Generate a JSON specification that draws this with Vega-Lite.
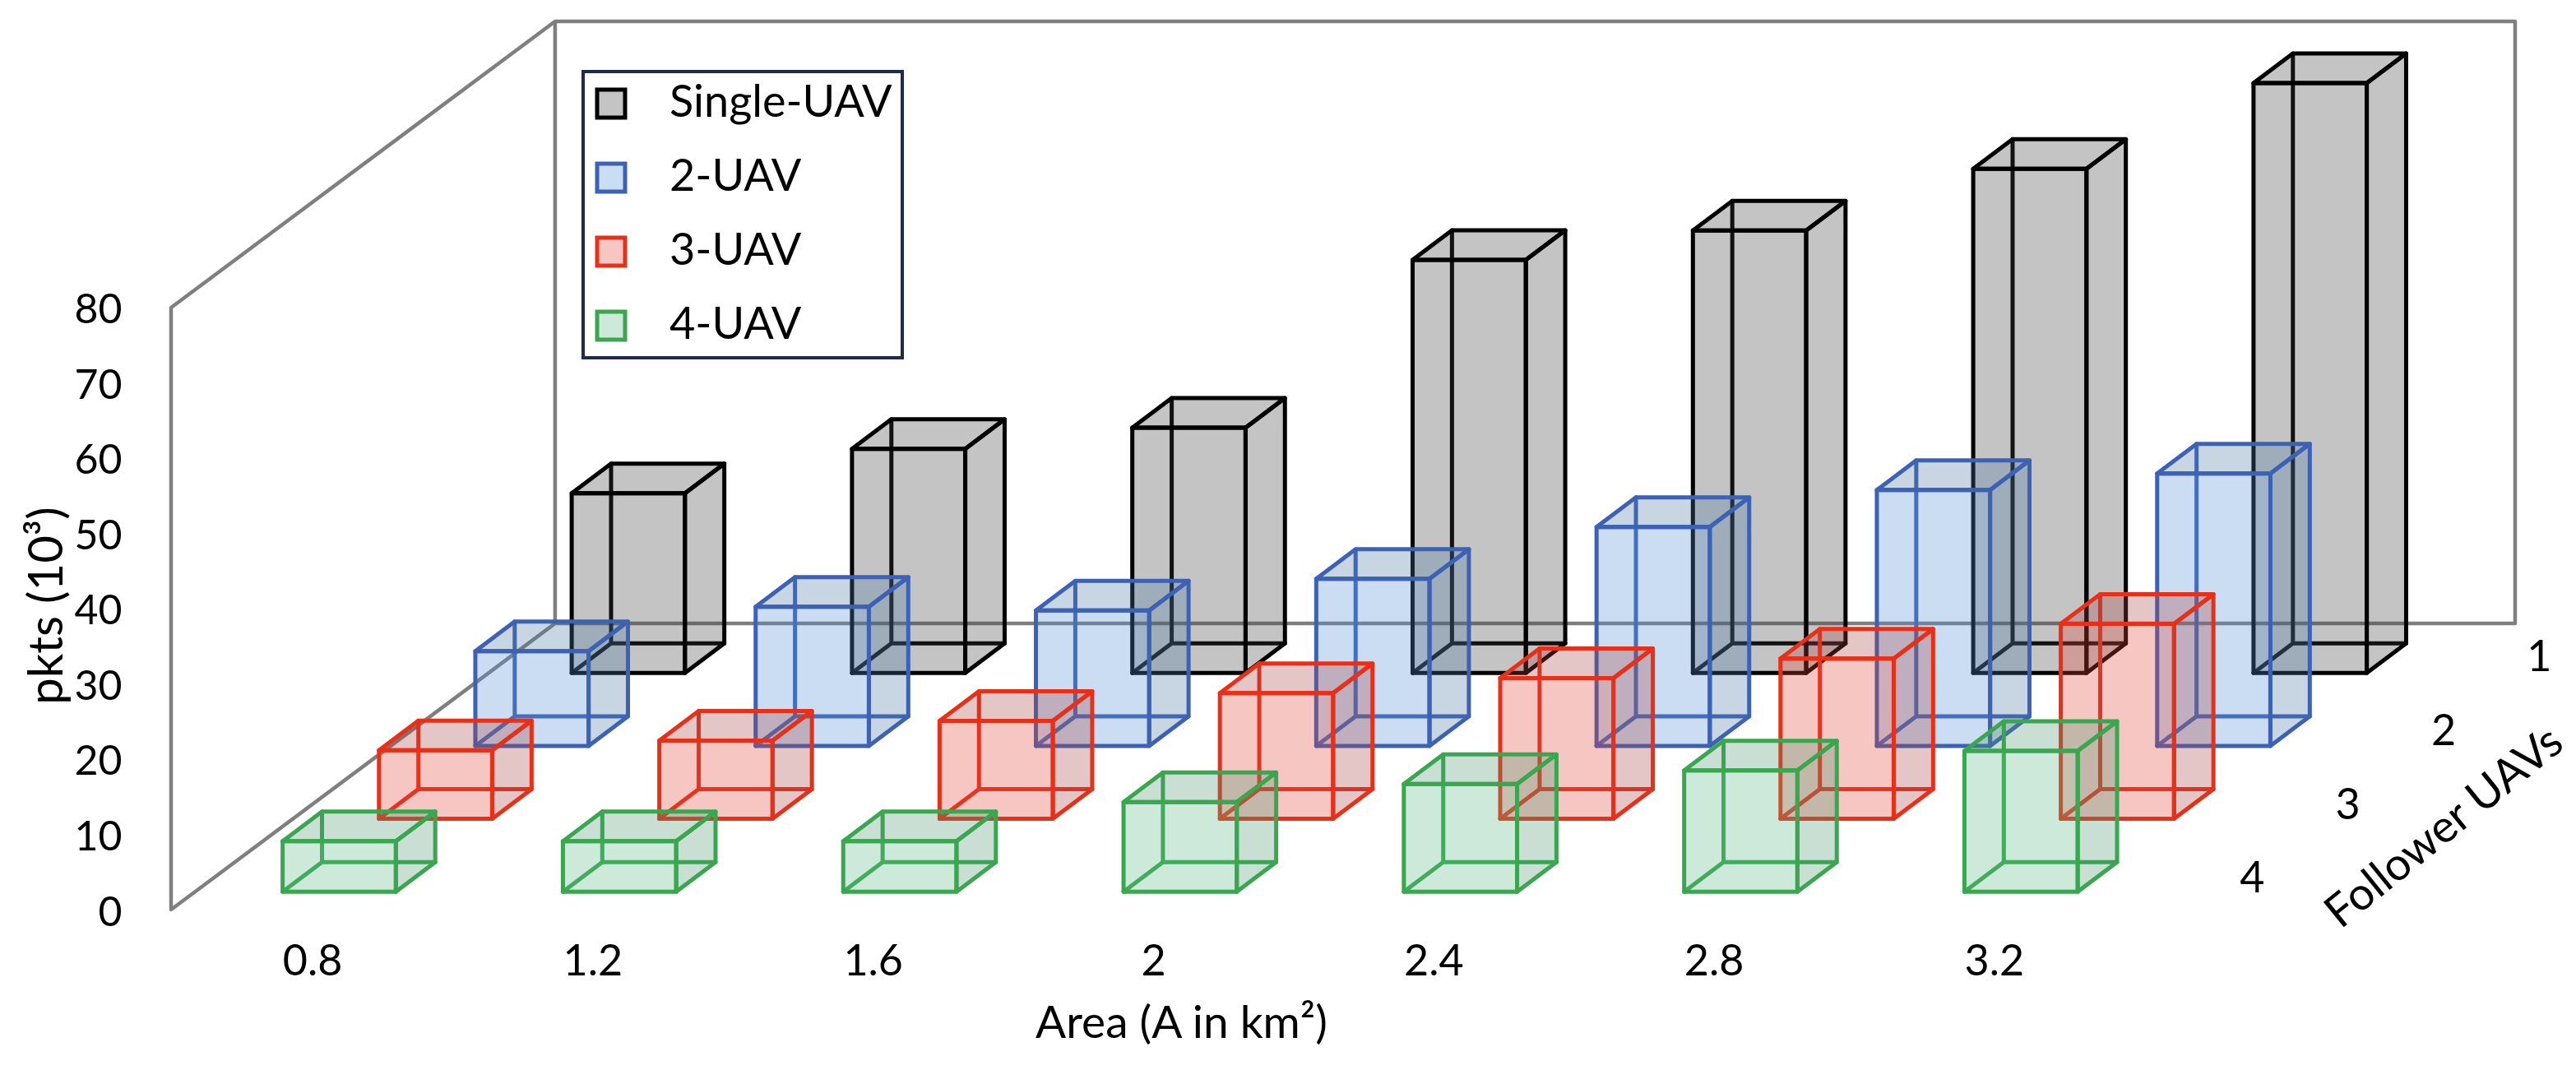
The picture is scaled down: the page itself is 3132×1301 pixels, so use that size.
{
"$schema":"https://vega.github.io/schema/vega-lite/v6.json",
"autosize":{"type":"none"},
"padding":{"left":208,"top":0,"right":0,"bottom":0},
"width":2924,"height":1301,
"background":"white",
"config":{"view":{"stroke":null},"font":"Lato","axis":{"grid":false},"legend":{"strokeWidth":4}},
"datasets":{
"bars":[
{"area":0.8,"series":"Single-UAV","uavs":1,"pkts":23.9},{"area":1.2,"series":"Single-UAV","uavs":1,"pkts":29.8},{"area":1.6,"series":"Single-UAV","uavs":1,"pkts":32.6},{"area":2.0,"series":"Single-UAV","uavs":1,"pkts":54.9},{"area":2.4,"series":"Single-UAV","uavs":1,"pkts":58.8},{"area":2.8,"series":"Single-UAV","uavs":1,"pkts":67.0},{"area":3.2,"series":"Single-UAV","uavs":1,"pkts":78.4},
{"area":0.8,"series":"2-UAV","uavs":2,"pkts":12.6},{"area":1.2,"series":"2-UAV","uavs":2,"pkts":18.5},{"area":1.6,"series":"2-UAV","uavs":2,"pkts":18.0},{"area":2.0,"series":"2-UAV","uavs":2,"pkts":22.2},{"area":2.4,"series":"2-UAV","uavs":2,"pkts":29.1},{"area":2.8,"series":"2-UAV","uavs":2,"pkts":34.0},{"area":3.2,"series":"2-UAV","uavs":2,"pkts":36.2},
{"area":0.8,"series":"3-UAV","uavs":3,"pkts":9.1},{"area":1.2,"series":"3-UAV","uavs":3,"pkts":10.4},{"area":1.6,"series":"3-UAV","uavs":3,"pkts":13.0},{"area":2.0,"series":"3-UAV","uavs":3,"pkts":16.7},{"area":2.4,"series":"3-UAV","uavs":3,"pkts":18.7},{"area":2.8,"series":"3-UAV","uavs":3,"pkts":21.3},{"area":3.2,"series":"3-UAV","uavs":3,"pkts":25.9},
{"area":0.8,"series":"4-UAV","uavs":4,"pkts":6.7},{"area":1.2,"series":"4-UAV","uavs":4,"pkts":6.7},{"area":1.6,"series":"4-UAV","uavs":4,"pkts":6.7},{"area":2.0,"series":"4-UAV","uavs":4,"pkts":11.9},{"area":2.4,"series":"4-UAV","uavs":4,"pkts":14.3},{"area":2.8,"series":"4-UAV","uavs":4,"pkts":16.1},{"area":3.2,"series":"4-UAV","uavs":4,"pkts":18.7}
],
"walls":[
{"ord":0,"area":0.5986,"depth":4,"pkts":80},{"ord":1,"area":0.5986,"depth":0,"pkts":80},{"ord":2,"area":0.5986,"depth":0,"pkts":0},{"ord":3,"area":0.5986,"depth":4,"pkts":0},{"ord":4,"area":0.5986,"depth":4,"pkts":80},{"ord":5,"area":3.3956,"depth":4,"pkts":80},{"ord":6,"area":3.3956,"depth":4,"pkts":0},{"ord":7,"area":0.5986,"depth":4,"pkts":0}
],
"followers":[
{"label":"1","uavs":1,"area":3.978,"pkts":33.4},{"label":"2","uavs":2,"area":3.978,"pkts":33.4},{"label":"3","uavs":3,"area":3.978,"pkts":33.4},{"label":"4","uavs":4,"area":3.978,"pkts":33.4}
]
},
"layer":[
{"data":{"name":"walls"},
 "transform":[{"calculate":"datum.area+datum.depth*0.137","as":"sx"},{"calculate":"datum.pkts+datum.depth*9.508","as":"sy"}],
 "mark":{"type":"line","stroke":"#7f7f7f","strokeWidth":4.5,"strokeJoin":"round"},
 "encoding":{
  "x":{"field":"sx","type":"quantitative","scale":{"domain":[0.5986,4.0305],"nice":false,"zero":false},
   "axis":{"values":[0.8,1.2,1.6,2,2.4,2.8,3.2],"format":".1~f","ticks":false,"domain":false,"offset":-132,"labelPadding":0,"labelFontSize":52,"labelBaseline":"middle","labelColor":"#000","labelFont":"Lato","title":"Area (A in km²)","titleFontSize":55,"titleFont":"Lato","titleFontWeight":"normal","titleColor":"#000","titleX":1228,"titleY":75,"titleAlign":"center","titleBaseline":"middle"}},
  "y":{"field":"sy","type":"quantitative","scale":{"domain":[-21.31,120.87],"nice":false,"zero":false},
   "axis":{"values":[0,10,20,30,40,50,60,70,80],"ticks":false,"domain":false,"labelPadding":60,"labelOffset":4,"labelFontSize":50,"labelColor":"#000","labelFont":"Lato","title":"pkts (10³)","titleFontSize":58,"titleFont":"Lato","titleFontWeight":"normal","titleColor":"#000","titleX":-150,"titleY":736,"titleAlign":"center","titleBaseline":"middle"}},
  "order":{"field":"ord","type":"quantitative"}
 }},
{"data":{"name":"bars"},
 "transform":[
  {"calculate":"[[0,0,0,0,0],[0,1,0,1,0],[0,2,1,1,0],[0,3,0,1,0],[0,4,0,1,1],[0,5,0,1,0],[1,0,1,0,0],[1,1,1,1,0],[1,2,1,1,1],[1,3,1,0,1],[2,0,0,0,1],[2,1,1,0,1],[2,2,1,1,1],[2,3,0,1,1],[3,0,0,0,0],[3,1,1,0,0],[3,2,1,0,1],[3,3,0,0,1]]","as":"c"},
  {"flatten":["c"]},
  {"calculate":"datum.area-0.0422+(4-datum.uavs)*0.1375+datum.c[2]*0.1616+datum.c[3]*0.0562","as":"sx"},
  {"calculate":"2.386+(4-datum.uavs)*9.683+datum.c[3]*3.934+datum.c[4]*datum.pkts","as":"sy"},
  {"calculate":"datum.c[1]","as":"pt"},
  {"calculate":"datum.series+'|'+datum.area+'|'+datum.c[0]","as":"poly"},
  {"calculate":"datum.c[0]==3?datum.series:datum.series+' side'","as":"fillKey"}
 ],
 "mark":{"type":"line","interpolate":"linear-closed","strokeWidth":5,"strokeJoin":"round","fillOpacity":0.3},
 "encoding":{
  "x":{"field":"sx","type":"quantitative"},
  "y":{"field":"sy","type":"quantitative"},
  "order":{"field":"pt","type":"quantitative"},
  "detail":{"field":"poly"},
  "fill":{"field":"fillKey","type":"nominal","legend":null,"scale":{"domain":["Single-UAV","2-UAV","3-UAV","4-UAV","Single-UAV side","2-UAV side","3-UAV side","4-UAV side"],"range":["#3a3a3a","#528ed4","#de4134","#58b680","#3a3a3a","#4873a2","#a54141","#4b946c"]}},
  "stroke":{"field":"series","type":"nominal","sort":null,
   "scale":{"domain":["Single-UAV","2-UAV","3-UAV","4-UAV"],"range":["#000000","#3d62b5","#e83018","#3aa650"]},
   "legend":{"title":null,"orient":"none","legendX":501,"legendY":87,"fillColor":"white","strokeColor":"#1f2a50","symbolType":"square","symbolSize":1156,"symbolStrokeWidth":5,"symbolOpacity":1,"symbolFillColor":"#c4c4c4","labelFontSize":54,"labelFont":"Lato","labelColor":"#000","labelOffset":44,"labelLimit":500,"rowPadding":36,"padding":12,"symbolOffset":-5,"encode":{"symbols":{"update":{"fill":{"signal":"datum.value=='Single-UAV'?'#c4c4c4':datum.value=='2-UAV'?'#cbddf2':datum.value=='3-UAV'?'#f5c6c2':'#cde9d9'"}}}}}}
 }},
{"data":{"name":"followers"},
 "transform":[{"calculate":"datum.area-(datum.uavs-1)*0.1365","as":"sx"},{"calculate":"datum.pkts-(datum.uavs-1)*9.8","as":"sy"}],
 "mark":{"type":"text","fontSize":52,"font":"Lato","color":"#000","align":"center","baseline":"middle"},
 "encoding":{"x":{"field":"sx","type":"quantitative"},"y":{"field":"sy","type":"quantitative"},"text":{"field":"label"}}},
{"data":{"values":[{"t":"Follower UAVs","area":3.8427,"pkts":10.9}]},
 "mark":{"type":"text","fontSize":55,"font":"Lato","color":"#000","align":"center","baseline":"middle","angle":321},
 "encoding":{"x":{"field":"area","type":"quantitative"},"y":{"field":"pkts","type":"quantitative"},"text":{"field":"t"}}}
]
}
